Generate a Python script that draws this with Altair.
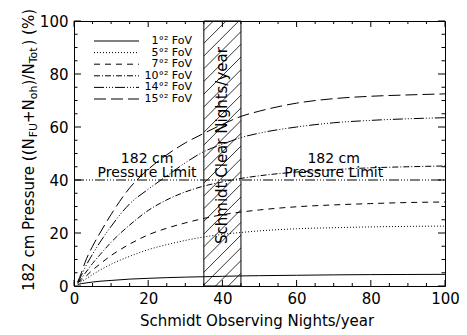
import altair as alt
import pandas as pd
import numpy as np

FONT = "DejaVu Sans"

# ---- data ----
nights = [1, 2, 3, 5, 7, 10, 15, 20, 25, 30, 35, 40, 45, 50, 60, 70, 80, 90, 100]
fov_labels = ["1°² FoV", "5°² FoV", "7°² FoV", "10°² FoV", "14°² FoV", "15°² FoV"]
fov1 = [0.6, 0.9, 1.1, 1.5, 1.8, 2.1, 2.6, 2.9, 3.15, 3.35, 3.5, 3.65, 3.8, 3.9, 4.05, 4.2, 4.3, 4.35, 4.4]
fov5 = [1.0, 1.7, 2.5, 4.3, 6.0, 8.2, 11.2, 13.7, 15.6, 17.2, 18.5, 19.5, 20.2, 20.8, 21.6, 22.0, 22.3, 22.5, 22.6]
fov7 = [1.2, 2.2, 3.4, 6.0, 8.3, 11.5, 15.8, 19.3, 21.8, 23.8, 25.5, 26.9, 27.9, 28.7, 29.9, 30.6, 31.1, 31.5, 31.7]
fov10 = [1.3, 3.0, 4.8, 8.5, 11.8, 16.5, 23.0, 28.5, 32.5, 35.5, 37.7, 39.3, 40.6, 41.6, 43.0, 43.9, 44.6, 45.0, 45.3]
fov14 = [1.5, 4.0, 7.0, 12.0, 16.5, 22.5, 31.0, 36.5, 41.5, 46.5, 50.7, 53.5, 56.0, 57.7, 60.0, 61.6, 62.5, 63.1, 63.5]
fov15 = [1.5, 5.0, 9.0, 15.0, 20.0, 27.0, 37.0, 44.0, 49.5, 54.0, 57.6, 61.0, 64.0, 66.0, 69.0, 70.7, 71.6, 72.1, 72.5]
series = [fov1, fov5, fov7, fov10, fov14, fov15]
dashes = [None, [1, 2], [6, 5], [6, 2, 1, 2], [10, 2, 1, 2, 1, 2, 1, 2], [12, 5]]

limit_value = [40]
limit_span = [0, 100]
clear_nights = [35, 45]
x_major = [0, 20, 40, 60, 80, 100]
x_minor = [v for v in range(5, 100, 5) if v % 20 != 0]
y_major = [0, 20, 40, 60, 80, 100]
y_minor = [v for v in range(5, 100, 5) if v % 20 != 0]

W, H = 371, 265
xs = alt.Scale(domain=[0, 100], nice=False, zero=False)
ys = alt.Scale(domain=[0, 100], nice=False, zero=False)
XA = alt.Axis(values=x_major, ticks=False, domain=False, grid=False, labelFont=FONT,
              labelFontSize=15, labelColor="black", labelPadding=5, title=None, labelFlush=False)
YA = alt.Axis(values=y_major, ticks=False, domain=False, grid=False, labelFont=FONT,
              labelFontSize=15, labelColor="black", labelPadding=6, title=None, labelFlush=False)


def X(f="x"):
    return alt.X(f + ":Q", scale=xs, axis=XA)


def Y(f="y"):
    return alt.Y(f + ":Q", scale=ys, axis=YA)


layers = []

# hatch inside clear-nights column
rise = (clear_nights[1] - clear_nights[0]) * (W / 100.0) / (H / 100.0)
offs = np.arange(-rise, 100 + 4.8, 4.8)
hatch = pd.DataFrame({"x": clear_nights[0], "x2": clear_nights[1], "y": offs, "y2": offs + rise})
layers.append(alt.Chart(hatch).mark_rule(clip=True, color="black", strokeWidth=0.8).encode(
    x=X(), x2="x2", y=Y(), y2="y2"))
col = pd.DataFrame({"x": [clear_nights[0]], "x2": [clear_nights[1]], "y": [0], "y2": [100]})
layers.append(alt.Chart(col).mark_rect(fillOpacity=0, stroke="black", strokeWidth=1).encode(
    x=X(), x2="x2", y=Y(), y2="y2"))

# curves + legend
for i, (vals, lab, d) in enumerate(zip(series, fov_labels, dashes)):
    df = pd.DataFrame({"x": nights, "y": vals})
    kw = dict(color="black", strokeWidth=1, interpolate="monotone")
    if d:
        kw["strokeDash"] = d
    layers.append(alt.Chart(df).mark_line(**kw).encode(x=X(), y=Y()))
    ly = 20 + i * 11.6
    lkw = dict(color="black", strokeWidth=1)
    if d:
        lkw["strokeDash"] = d
    layers.append(alt.Chart(pd.DataFrame({"a": [0]})).mark_rule(**lkw).encode(
        x=alt.value(20), x2=alt.value(65), y=alt.value(ly)))
    layers.append(alt.Chart(pd.DataFrame({"a": [0]})).mark_text(
        text=lab, font=FONT, fontSize=11, align="right", baseline="middle", color="black").encode(
        x=alt.value(118), y=alt.value(ly)))

# pressure limit line
lim = pd.DataFrame({"x": [limit_span[0]], "x2": [limit_span[1]], "y": limit_value})
layers.append(alt.Chart(lim).mark_rule(color="black", strokeWidth=1, strokeDash=[10, 2, 1, 2, 1, 2, 1, 2]).encode(
    x=X(), x2="x2", y=Y()))

# annotations
ann = pd.DataFrame({"x": [19.7, 70, 19.7, 70], "y": [46.3, 46.3, 41.0, 41.0],
                    "t": ["182 cm", "182 cm", "Pressure Limit", "Pressure Limit"]})
layers.append(alt.Chart(ann).mark_text(font=FONT, fontSize=14, baseline="alphabetic", align="center", color="black").encode(
    x=X(), y=Y(), text="t:N"))
cn = pd.DataFrame({"x": [sum(clear_nights) / 2], "y": [53], "t": ["Schmidt Clear Nights/year"]})
layers.append(alt.Chart(cn).mark_text(font=FONT, fontSize=15, angle=270, baseline="middle", align="center", color="black").encode(
    x=X(), y=Y(), text="t:N"))


# inward ticks on all four sides
def xticks(vals, length):
    b = alt.Chart(pd.DataFrame({"x": vals})).mark_rule(color="black", strokeWidth=1)
    return [b.encode(x=X(), y=alt.value(H), y2=alt.value(H - length)),
            b.encode(x=X(), y=alt.value(0), y2=alt.value(length))]


def yticks(vals, length):
    b = alt.Chart(pd.DataFrame({"y": vals})).mark_rule(color="black", strokeWidth=1)
    return [b.encode(y=Y(), x=alt.value(0), x2=alt.value(length)),
            b.encode(y=Y(), x=alt.value(W), x2=alt.value(W - length))]


layers += xticks(x_major, 6) + xticks(x_minor, 3) + yticks(y_major, 7) + yticks(y_minor, 3.5)

# x title
layers.append(alt.Chart(pd.DataFrame({"a": [0]})).mark_text(
    text="Schmidt Observing Nights/year", font=FONT, fontSize=15, align="center", baseline="middle", color="black").encode(
    x=alt.value(183), y=alt.value(300)))

# y title with subscripts (rotated, reading upward)
segs = [("182 cm Pressure ((N", 15, 10.245), ("FU", 11, 1.307), ("+N", 15, 1.586), ("oh", 11, 1.246),
        (")/N", 15, 1.475), ("Tot", 11, 1.615), (") (%)", 15, 2.438)]
ypos = 270.0
for txt, size, em in segs:
    xb = -40.5 if size == 15 else -37.0
    layers.append(alt.Chart(pd.DataFrame({"a": [0]})).mark_text(
        text=txt, font=FONT, fontSize=size, angle=270, align="left", baseline="alphabetic", color="black").encode(
        x=alt.value(xb), y=alt.value(ypos)))
    ypos -= em * size

chart = alt.layer(*layers).properties(
    width=W, height=H,
    autosize=alt.AutoSizeParams(type="none"),
    padding={"left": 66, "top": 13, "right": 14, "bottom": 46},
    background="white",
).configure_view(stroke="black", strokeWidth=1)

chart.save("out.html", embed_options={"renderer": "svg", "actions": False})
